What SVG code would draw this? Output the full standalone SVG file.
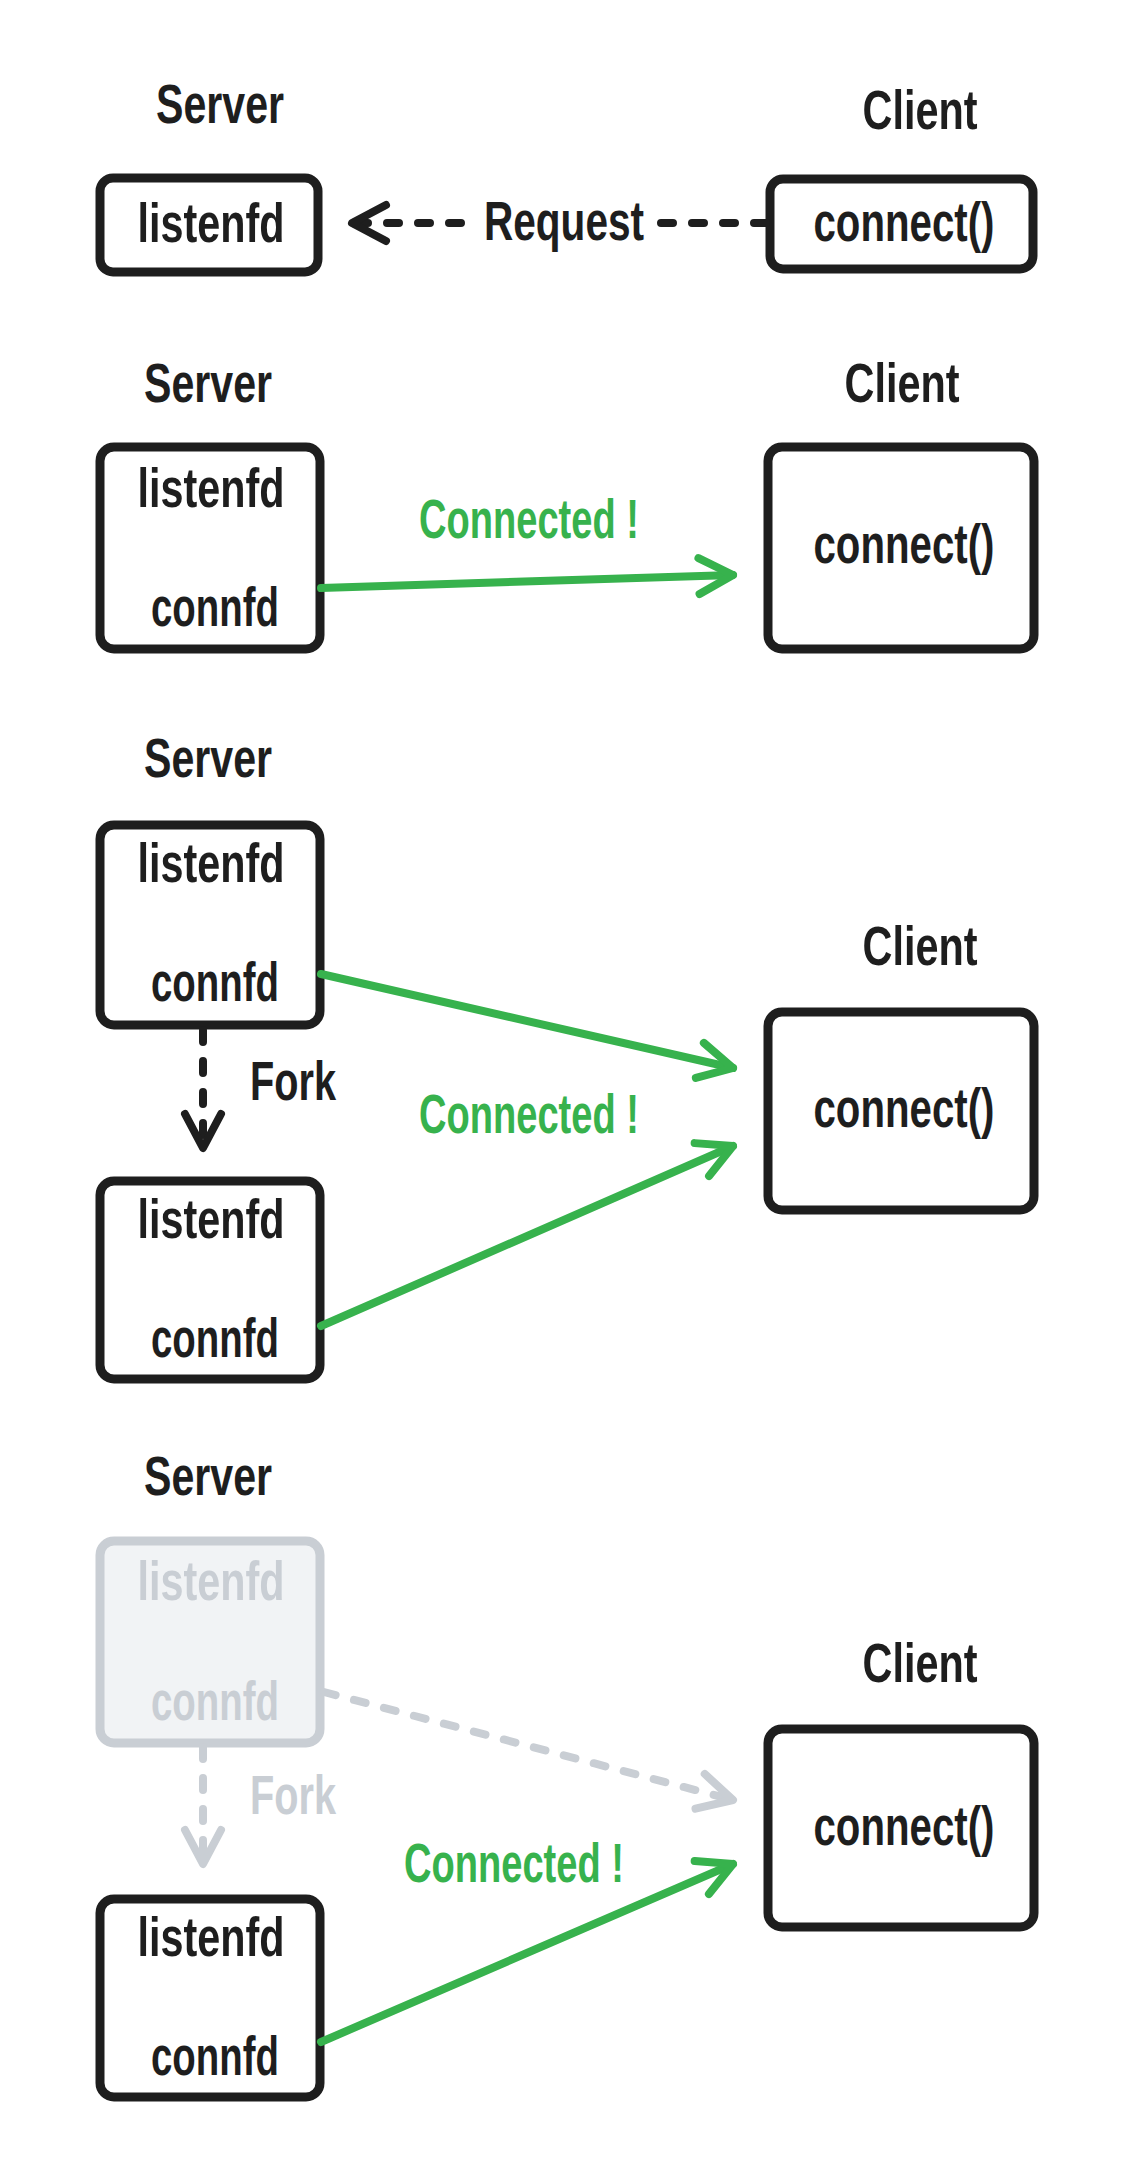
<svg xmlns="http://www.w3.org/2000/svg" width="1136" height="2166" viewBox="0 0 1136 2166">
<style>
.t{font-family:"Liberation Sans Narrow","Liberation Sans",Arial,sans-serif;font-weight:bold;font-size:56px;fill:#1e1e1e;text-anchor:middle}
.g{fill:#c9ced4}
.gr{fill:#37b24d}
.box{fill:#ffffff;stroke:#1e1e1e;stroke-width:9;stroke-linejoin:round}
.gbox{fill:#f1f3f5;stroke:#c9ced4;stroke-width:9;stroke-linejoin:round}
.ln{fill:none;stroke-width:8;stroke-linecap:round;stroke-linejoin:round}
.blk{stroke:#1e1e1e}
.grn{stroke:#37b24d}
.gry{stroke:#c9ced4}
.dash{stroke-dasharray:12 19}
</style>
<defs>
<marker id="ah-b" markerUnits="userSpaceOnUse" viewBox="-45 -30 55 60" markerWidth="55" markerHeight="60" refX="0" refY="0" orient="auto">
<path d="M-34,-18 L0,0 L-34,18" fill="none" stroke="#1e1e1e" stroke-width="8" stroke-linecap="round" stroke-linejoin="round"/>
</marker>
<marker id="ah-g" markerUnits="userSpaceOnUse" viewBox="-45 -30 55 60" markerWidth="55" markerHeight="60" refX="0" refY="0" orient="auto">
<path d="M-34,-18 L0,0 L-34,18" fill="none" stroke="#37b24d" stroke-width="8" stroke-linecap="round" stroke-linejoin="round"/>
</marker>
<marker id="ah-y" markerUnits="userSpaceOnUse" viewBox="-45 -30 55 60" markerWidth="55" markerHeight="60" refX="0" refY="0" orient="auto">
<path d="M-34,-18 L0,0 L-34,18" fill="none" stroke="#c9ced4" stroke-width="8" stroke-linecap="round" stroke-linejoin="round"/>
</marker>
</defs>
<rect width="1136" height="2166" fill="#ffffff"/>

<!-- Panel 1 -->
<g id="p1-server-label"><text class="t" x="220" y="123" textLength="128" lengthAdjust="spacingAndGlyphs">Server</text></g>
<g id="p1-client-label"><text class="t" x="920" y="129" textLength="115" lengthAdjust="spacingAndGlyphs">Client</text></g>
<g id="p1-listenfd">
<rect class="box" x="100" y="178" width="218" height="94" rx="13"/>
<text class="t" x="211" y="242" textLength="147" lengthAdjust="spacingAndGlyphs">listenfd</text>
</g>
<g id="p1-connect">
<rect class="box" x="770" y="179" width="263" height="90" rx="13"/>
<text class="t" x="904" y="241" textLength="181" lengthAdjust="spacingAndGlyphs">connect()</text>
</g>

<!-- Panel 2 -->
<g id="p2-server-label"><text class="t" x="208" y="402" textLength="128" lengthAdjust="spacingAndGlyphs">Server</text></g>
<g id="p2-client-label"><text class="t" x="902" y="402" textLength="115" lengthAdjust="spacingAndGlyphs">Client</text></g>
<g id="p2-server">
<rect class="box" x="100" y="447" width="220" height="202" rx="14"/>
<text class="t" x="211" y="507" textLength="147" lengthAdjust="spacingAndGlyphs">listenfd</text>
<text class="t" x="215" y="626" textLength="128" lengthAdjust="spacingAndGlyphs">connfd</text>
</g>
<g id="p2-client">
<rect class="box" x="768" y="447" width="266" height="202" rx="14"/>
<text class="t" x="904" y="563" textLength="181" lengthAdjust="spacingAndGlyphs">connect()</text>
</g>

<!-- Panel 3 -->
<g id="p3-server-label"><text class="t" x="208" y="777" textLength="128" lengthAdjust="spacingAndGlyphs">Server</text></g>
<g id="p3-client-label"><text class="t" x="920" y="965" textLength="115" lengthAdjust="spacingAndGlyphs">Client</text></g>
<g id="p3-server-parent">
<rect class="box" x="100" y="825" width="220" height="200" rx="14"/>
<text class="t" x="211" y="882" textLength="147" lengthAdjust="spacingAndGlyphs">listenfd</text>
<text class="t" x="215" y="1001" textLength="128" lengthAdjust="spacingAndGlyphs">connfd</text>
</g>
<g id="p3-server-child">
<rect class="box" x="100" y="1181" width="220" height="198" rx="14"/>
<text class="t" x="211" y="1238" textLength="147" lengthAdjust="spacingAndGlyphs">listenfd</text>
<text class="t" x="215" y="1357" textLength="128" lengthAdjust="spacingAndGlyphs">connfd</text>
</g>
<g id="p3-client">
<rect class="box" x="768" y="1012" width="266" height="198" rx="14"/>
<text class="t" x="904" y="1127" textLength="181" lengthAdjust="spacingAndGlyphs">connect()</text>
</g>

<!-- Panel 4 -->
<g id="p4-server-label"><text class="t" x="208" y="1495" textLength="128" lengthAdjust="spacingAndGlyphs">Server</text></g>
<g id="p4-client-label"><text class="t" x="920" y="1682" textLength="115" lengthAdjust="spacingAndGlyphs">Client</text></g>
<g id="p4-server-parent">
<rect class="gbox" x="100" y="1541" width="220" height="202" rx="14"/>
<text class="t g" x="211" y="1600" textLength="147" lengthAdjust="spacingAndGlyphs">listenfd</text>
<text class="t g" x="215" y="1720" textLength="128" lengthAdjust="spacingAndGlyphs">connfd</text>
</g>
<g id="p4-server-child">
<rect class="box" x="100" y="1899" width="220" height="198" rx="14"/>
<text class="t" x="211" y="1956" textLength="147" lengthAdjust="spacingAndGlyphs">listenfd</text>
<text class="t" x="215" y="2075" textLength="128" lengthAdjust="spacingAndGlyphs">connfd</text>
</g>
<g id="p4-client">
<rect class="box" x="768" y="1729" width="266" height="198" rx="14"/>
<text class="t" x="904" y="1845" textLength="181" lengthAdjust="spacingAndGlyphs">connect()</text>
</g>

<!-- Connectors -->
<g id="connectors">
<path class="ln blk dash" d="M766,223 L660,223"/>
<path class="ln blk dash" d="M461,223 L352,223" marker-end="url(#ah-b)"/>
<text class="t" x="564" y="240" textLength="160" lengthAdjust="spacingAndGlyphs">Request</text>

<path class="ln grn" d="M321,588 L733,575" marker-end="url(#ah-g)"/>
<text class="t gr" x="529" y="538" textLength="220" lengthAdjust="spacingAndGlyphs">Connected !</text>

<path class="ln grn" d="M321,974 L733,1068" marker-end="url(#ah-g)"/>
<path class="ln grn" d="M321,1326 L733,1146" marker-end="url(#ah-g)"/>
<path class="ln blk dash" d="M203,1030 L203,1148" marker-end="url(#ah-b)"/>
<text class="t" x="293" y="1100" textLength="86" lengthAdjust="spacingAndGlyphs">Fork</text>
<text class="t gr" x="529" y="1133" textLength="220" lengthAdjust="spacingAndGlyphs">Connected !</text>

<path class="ln gry dash" d="M203,1747 L203,1864" marker-end="url(#ah-y)"/>
<text class="t g" x="293" y="1814" textLength="86" lengthAdjust="spacingAndGlyphs">Fork</text>
<path class="ln gry dash" d="M324,1692 L733,1800" marker-end="url(#ah-y)"/>
<path class="ln grn" d="M321,2042 L733,1864" marker-end="url(#ah-g)"/>
<text class="t gr" x="514" y="1882" textLength="220" lengthAdjust="spacingAndGlyphs">Connected !</text>
</g>
</svg>
